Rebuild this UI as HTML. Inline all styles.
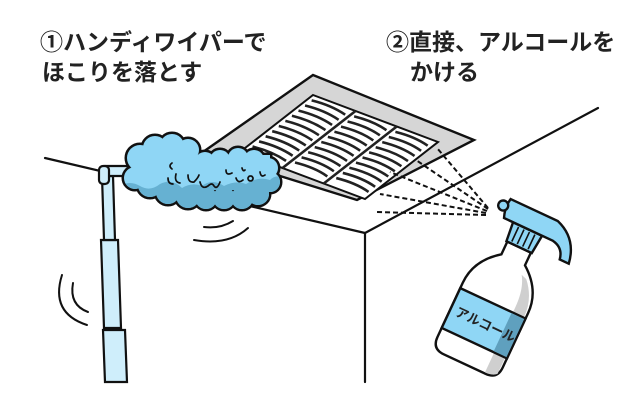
<!DOCTYPE html>
<html><head><meta charset="utf-8"><style>
html,body{margin:0;padding:0;background:#fff;}
svg{display:block;}
text{font-family:"Liberation Sans","Noto Sans CJK JP",sans-serif;font-weight:bold;fill:#222;}
</style></head><body>
<svg width="640" height="400" viewBox="0 0 640 400" xmlns="http://www.w3.org/2000/svg" xmlns:xlink="http://www.w3.org/1999/xlink">
<defs>
  <g id="blob">
    <circle cx="140" cy="158" r="13"/><circle cx="155" cy="148" r="12"/><circle cx="172" cy="146" r="12"/>
    <circle cx="188" cy="150" r="11"/><circle cx="135" cy="178" r="11"/><circle cx="150" cy="185" r="12"/>
    <circle cx="168" cy="192" r="12"/><circle cx="188" cy="196" r="12"/><circle cx="206" cy="198" r="11"/>
    <circle cx="224" cy="198" r="11"/><circle cx="242" cy="198" r="11"/><circle cx="258" cy="194" r="11"/>
    <circle cx="270" cy="182" r="10"/><circle cx="268" cy="168" r="10"/><circle cx="254" cy="160" r="10"/>
    <circle cx="238" cy="158" r="10"/><circle cx="220" cy="160" r="10"/><circle cx="205" cy="162" r="10"/>
    <rect x="140" y="155" width="130" height="35"/>
  </g>
  <clipPath id="bc">
    <circle cx="135" cy="178" r="11"/><circle cx="150" cy="185" r="12"/>
    <circle cx="168" cy="192" r="12"/><circle cx="188" cy="196" r="12"/><circle cx="206" cy="198" r="11"/>
    <circle cx="224" cy="198" r="11"/><circle cx="242" cy="198" r="11"/><circle cx="258" cy="194" r="11"/>
    <circle cx="270" cy="182" r="10"/>
    <rect x="140" y="155" width="130" height="35"/>
  </clipPath>
</defs>
<g stroke="#111" stroke-width="2.2" fill="none" stroke-linecap="round">
  <line x1="45" y1="158" x2="365" y2="233"/>
  <line x1="365" y1="233" x2="598" y2="108"/>
  <line x1="365" y1="233" x2="365" y2="382"/>
</g>
<!-- vent -->
<polygon points="313,75 474,140 357,200 203,152" fill="#d6d6d6" stroke="#111" stroke-width="2.4"/>
<g transform="matrix(1.25,0.47,-0.73,0.57,313,95)">
  <polygon points="0,0 100,0 100,100 0,100" fill="#fff" stroke="#111" stroke-width="2" vector-effect="non-scaling-stroke"/>
  <g stroke="#222" stroke-width="2.6" fill="none">
    <path vector-effect="non-scaling-stroke" d="M34,0 L34,100 M67,0 L67,100"/>
    <path vector-effect="non-scaling-stroke" d="M3,7 q14,-3 28,2 M3,16 q14,-3 28,2 M3,25 q14,-3 28,2 M3,34 q14,-3 28,2 M3,43 q14,-3 28,2 M3,52 q14,-3 28,2 M3,61 q14,-3 28,2 M3,70 q14,-3 28,2 M3,79 q14,-3 28,2 M3,88 q14,-3 28,2"/>
    <path vector-effect="non-scaling-stroke" d="M37,7 q14,-3 27,2 M37,16 q14,-3 27,2 M37,25 q14,-3 27,2 M37,34 q14,-3 27,2 M37,43 q14,-3 27,2 M37,52 q14,-3 27,2 M37,61 q14,-3 27,2 M37,70 q14,-3 27,2 M37,79 q14,-3 27,2 M37,88 q14,-3 27,2"/>
    <path vector-effect="non-scaling-stroke" d="M70,7 q14,-3 27,2 M70,16 q14,-3 27,2 M70,25 q14,-3 27,2 M70,34 q14,-3 27,2 M70,43 q14,-3 27,2 M70,52 q14,-3 27,2 M70,61 q14,-3 27,2 M70,70 q14,-3 27,2 M70,79 q14,-3 27,2 M70,88 q14,-3 27,2"/>
  </g>
</g>
<!-- dashes -->
<g stroke="#111" stroke-width="2" stroke-dasharray="5,3" fill="none">
  <line x1="488" y1="208" x2="437" y2="148"/>
  <line x1="488" y1="209" x2="416" y2="160"/>
  <line x1="487" y1="211" x2="390" y2="172"/>
  <line x1="486" y1="213" x2="380" y2="194"/>
  <line x1="486" y1="215" x2="376" y2="212"/>
</g>
<!-- sound marks -->
<g stroke="#111" stroke-width="2" fill="none" stroke-linecap="round">
  <path d="M204,227 q16,2 29,-6"/>
  <path d="M194,240 q34,6 54,-12"/>
  <path d="M62,275 q-12,38 25,50"/>
  <path d="M73,283 q-4,22 15,29"/>
</g>
<!-- pole -->
<g stroke="#111" stroke-width="2.2" fill="#cfeefb">
  <polygon points="101,240 118,240 121,328 104,328"/>
  <polygon points="102,176 113,176 115,240 104,240"/>
  <polygon points="103,330 125,330 127,382 105,382"/>
  <rect x="103" y="166" width="42" height="10" rx="2"/>
  <rect x="99" y="166" width="10" height="18" rx="4"/>
</g>
<!-- duster -->
<g>
  <use href="#blob" xlink:href="#blob" fill="#8fd6f5" stroke="#111" stroke-width="5"/>
  <use href="#blob" xlink:href="#blob" fill="#8fd6f5"/>
  <g clip-path="url(#bc)" fill="#66b1d2">
    <path d="M120,186 q10,-6 20,0 q10,6 20,-2 q12,-6 22,4 q10,-6 20,-2 q10,-8 22,0 q12,-6 22,-2 q12,-8 24,-4 q6,-6 14,-2 L290,220 L120,220Z"/>
  </g>
  <g fill="none" stroke="#111" stroke-width="1.7" stroke-linecap="round">
    <path d="M172,163 q-4,3 0,6 M168,178 q0,6 5,6 M176,174 q-2,8 4,9 M188,175 q0,8 6,7 q4,-4 5,-7 M200,182 q2,8 8,4 q4,-4 6,0 q3,4 6,-4 M226,170 q0,6 6,3 M236,178 q2,6 7,2 M242,168 q1,4 3,2 M250,176 a2.5,2.5 0 1,0 1,0 M260,172 q1,6 5,3"/>
  </g>
</g>
<!-- bottle -->
<g transform="translate(487,316) rotate(25)" stroke="#111" stroke-width="2.4">
  <path fill="#fff" d="M-13,-76 L13,-76 L13,-62 Q36,-45 36,-20 L36,40 Q36,53 23,53 L-23,53 Q-36,53 -36,40 L-36,-20 Q-36,-45 -13,-62 Z"/>
  <path fill="#cfcfcf" stroke="none" d="M20,-50 Q34,-35 34,-15 L34,48 Q30,52 22,52 L22,-20 Q22,-40 14,-52Z"/>
  <path fill="#8fd6f5" d="M-36,-14 L36,-14 L36,30 L-36,30 Z"/>
  <path fill="#5fa0be" stroke="none" d="M21,-13 L35,-13 L35,29 L21,29Z"/>
  <text x="-30" y="13" font-size="13" stroke="none" font-weight="normal">アルコール</text>
  <path fill="#8fd6f5" d="M-16,-96 L16,-96 L14,-76 L-14,-76 Z"/>
  <path fill="none" stroke-width="1.6" d="M-9,-94 v16 M-3,-94 v16 M3,-94 v16 M9,-94 v16"/>
  <path fill="#8fd6f5" d="M-28,-116 L24,-116 Q48,-108 52,-82 L42,-82 Q40,-94 28,-96 L-26,-96 Q-30,-106 -28,-116Z"/>
  <circle cx="-32" cy="-107" r="5" fill="#8fd6f5"/>
</g>
<text x="40" y="50" font-size="23">①ハンディワイパーで</text>
<text x="42" y="80" font-size="23">ほこりを落とす</text>
<text x="386" y="50" font-size="23">②直接、アルコールを</text>
<text x="410" y="80" font-size="23">かける</text>
</svg>
</body></html>
